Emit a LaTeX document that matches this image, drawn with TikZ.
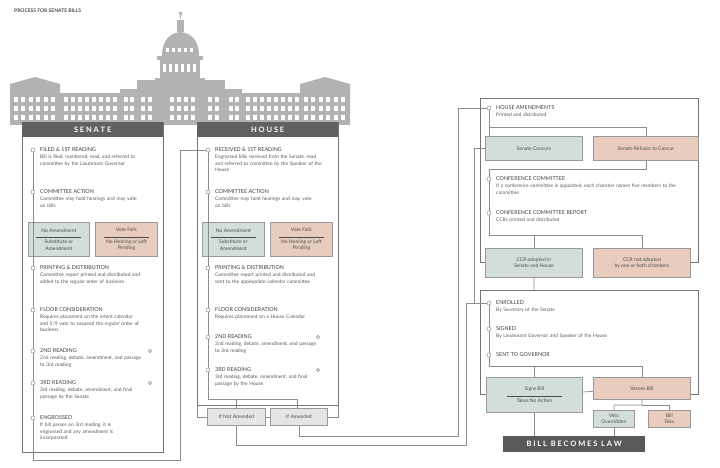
\documentclass[tikz,border=0pt]{standalone}
\usepackage{fontspec}
\setmainfont{Lato}
\begin{document}
\hyphenpenalty=10000 \exhyphenpenalty=10000
\begin{tikzpicture}[x=1pt,y=-1pt,
  ln/.style={draw=black!45,line width=0.7pt},
  frame/.style={draw=black!55,line width=0.9pt},
  dot/.style={circle,draw=black!45,fill=white,inner sep=0pt,minimum size=4pt,line width=0.5pt},
  sdot/.style={circle,draw=black!35,fill=black!15,inner sep=0pt,minimum size=3.5pt},
  head/.style={font=\fontsize{5.4}{6}\selectfont,text=black!75,inner sep=0pt},
  body/.style={font=\fontsize{4.9}{6.2}\selectfont,text=black!65,inner sep=0pt,align=left},
  gbox/.style={draw=black!40,fill=gB,line width=0.8pt,font=\fontsize{5}{6.3}\selectfont,text=black!70,align=center},
  pbox/.style={draw=black!40,fill=pB,line width=0.8pt,font=\fontsize{5}{6.3}\selectfont,text=black!70,align=center},
  nbox/.style={draw=black!40,fill=black!10,line width=0.8pt,font=\fontsize{5}{6.3}\selectfont,text=black!70,align=center},
  band/.style={fill=black!62,text=white,font=\bfseries\fontsize{7.5}{8}\selectfont,inner sep=0pt},
  bld/.style={fill=black!30,draw=none},
  win/.style={fill=white,draw=none}]
\definecolor{gB}{HTML}{D3DEDB}
\definecolor{pB}{HTML}{E8CDBE}
\useasboundingbox (0,0) rectangle (720,468);
\newcommand\stp[6]{%
  \node[dot] (#1) at (#2,#3) {};
  \node[head,anchor=west] (#1h) at (#2+7,#3) {#5};
  \node[body,anchor=north west,text width=#4] (#1b) at (#2+7,#3+5) {#6};}
% title
\node[anchor=west,font=\bfseries\fontsize{5}{6}\selectfont,text=black!70,inner sep=0pt] (title) at (14,11) {PROCESS FOR SENATE BILLS};
% capitol
\fill[bld] (10,84) -- (35,77) -- (60,84) -- (60,125) -- (10,125) -- cycle;
\fill[bld] (60,93) rectangle (120,125);
\fill[bld] (120,89) rectangle (137,125);
\fill[bld] (137,80) rectangle (225,125);
\fill[bld] (155,78) rectangle (205,82);
\fill[bld] (160,58) rectangle (200,80);
\fill[bld] (157,56) rectangle (203,60);
\fill[bld] (162,56) .. controls (162,40) and (170,33) .. (180.5,32) .. controls (191,33) and (199,40) .. (199,56) -- cycle;
\fill[bld] (177,32) rectangle (184,20);
\fill[bld] (180.5,20) -- (179,12) -- (182,12) -- cycle;
\fill[bld] (225,89) rectangle (242,125);
\fill[bld] (242,93) rectangle (300,125);
\fill[bld] (300,84) -- (325,77) -- (350,84) -- (350,125) -- (300,125) -- cycle;
\foreach \y in {97,106,115}{
  \foreach \x in {14,21,29,36,44,51,64,71,78,85,92,99,106,113,124,130,141,148,170,177,184,191,208,215,229,235,246,253,260,267,274,281,288,295,304,311,319,326,334,341}{
    \fill[win] (\x,\y) rectangle (\x+4,\y+5);}}
\foreach \x in {163,169,175,181,187,193}{\fill[win] (\x,64) rectangle (\x+3,72);}
\foreach \x in {166,172,178,184,190}{\fill[win] (\x,48) rectangle (\x+3,52);}
% ===== SENATE =====
\draw[frame,fill=white] (22,122) rectangle (163,452);
\node[band,minimum width=141pt,minimum height=15pt,anchor=north west] (sen) at (22,122) {S E N A T E};
\stp{s1}{33}{150}{100pt}{FILED \& 1ST READING}{Bill is filed, numbered, read, and referred to committee by the Lieutenant Governor}
\stp{s2}{33}{192}{100pt}{COMMITTEE ACTION}{Committee may hold hearings and may vote on bills}
\node[gbox,minimum width=61pt,minimum height=34pt,anchor=north west] (sg) at (28,222) {No Amendment\\[-1pt]\rule{45pt}{0.3pt}\\Substitute or\\Amendment};
\node[pbox,minimum width=62pt,minimum height=34pt,anchor=north west] (sp) at (95,222) {Vote Fails\\[-1pt]\rule{45pt}{0.3pt}\\No Hearing or Left\\Pending};
\stp{s3}{33}{268}{105pt}{PRINTING \& DISTRIBUTION}{Committee report printed and distributed and added to the regular order of business}
\stp{s4}{33}{310}{105pt}{FLOOR CONSIDERATION}{Requires placement on the intent calendar and 5/9 vote to suspend the regular order of business}
\stp{s5}{33}{351}{105pt}{2ND READING}{2nd reading, debate, amendment, and passage to 3rd reading}
\stp{s6}{33}{383}{105pt}{3RD READING}{3rd reading, debate, amendment, and final passage by the Senate}
\stp{s7}{33}{418}{85pt}{ENGROSSED}{If bill passes on 3rd reading, it is engrossed and any amendment is incorporated}
\node[sdot] (s5d) at (150,351) {};
\node[sdot] (s6d) at (150,383) {};
\coordinate (sl1) at (33,460); \coordinate (sl2) at (180,460); \coordinate (sl3) at (180,150);
\draw[ln] (s1) -- (s2) (s2) -- (s3) (s3) -- (s4) (s4) -- (s5) (s5) -- (s6) (s6) -- (s7);
% ===== HOUSE =====
\draw[frame,fill=white] (197,122) rectangle (338,405);
\node[band,minimum width=141pt,minimum height=15pt,anchor=north west] (hou) at (197,122) {H O U S E};
\stp{h1}{208}{150}{108pt}{RECEIVED \& 1ST READING}{Engrossed bills received from the Senate, read, and referred to committee by the Speaker of the House}
\stp{h2}{208}{192}{100pt}{COMMITTEE ACTION}{Committee may hold hearings and may vote on bills}
\node[gbox,minimum width=62pt,minimum height=34pt,anchor=north west] (hg) at (202,222) {No Amendment\\[-1pt]\rule{45pt}{0.3pt}\\Substitute or\\Amendment};
\node[pbox,minimum width=62pt,minimum height=34pt,anchor=north west] (hp) at (270,222) {Vote Fails\\[-1pt]\rule{45pt}{0.3pt}\\No Hearing or Left\\Pending};
\stp{h3}{208}{268}{110pt}{PRINTING \& DISTRIBUTION}{Committee report printed and distributed and sent to the appropriate calendar committee}
\stp{h4}{208}{310}{115pt}{FLOOR CONSIDERATION}{Requires placement on a House Calendar}
\stp{h5}{208}{337}{105pt}{2ND READING}{2nd reading, debate, amendment, and passage to 3rd reading}
\stp{h6}{208}{370}{105pt}{3RD READING}{3rd reading, debate, amendment, and final passage by the House}
\node[sdot] (h5d) at (318,337) {};
\node[sdot] (h6d) at (318,370) {};
\draw[ln] (h1) -- (h2) (h2) -- (h3) (h3) -- (h4) (h4) -- (h5) (h5) -- (h6);
\node[nbox,minimum width=58pt,minimum height=17pt,anchor=north west] (nam) at (207,408) {If Not Amended};
\node[nbox,minimum width=57pt,minimum height=17pt,anchor=north west] (am) at (270,408) {If Amended};
\coordinate (hb) at (208,399); \coordinate (hb2) at (236,399); \coordinate (hb3) at (297,399);
\draw[ln] (h6) -- (hb) -- (hb3) -- (am.north -| hb3);
\draw[ln] (hb2) -- (nam.north -| hb2);
\draw[ln] (nam) -- (am);
\draw[ln] (197,405) |- (nam.west);
\draw[ln] (338,405) |- (am.east);
% senate -> house
\draw[ln] (s7) -- (sl1) -- (sl2) -- (sl3) -- (h1);
% ===== RIGHT UPPER =====
\draw[frame] (582,262) -| (480,98) -| (698,262) -- (690,262);
\stp{r1}{489}{108}{190pt}{HOUSE AMENDMENTS}{Printed and distributed}
\node[gbox,minimum width=97pt,minimum height=24pt,anchor=north west] (sc) at (485,136) {Senate Concurs};
\node[pbox,minimum width=105pt,minimum height=24pt,anchor=north west] (sr) at (593,136) {Senate Refuses to Concur};
\stp{r2}{489}{179}{190pt}{CONFERENCE COMMITTEE}{If a conference committee is appointed, each chamber names five members to the committee}
\stp{r3}{489}{213}{190pt}{CONFERENCE COMMITTEE REPORT}{CCRs printed and distributed}
\node[gbox,minimum width=97pt,minimum height=29pt,anchor=north west] (ca) at (485,248) {CCR adopted in\\Senate and House};
\node[pbox,minimum width=97pt,minimum height=29pt,anchor=north west] (cn) at (593,248) {CCR not adopted\\by one or both chambers};
\draw[ln] (r1) -- (sc.north -| r1);
\draw[ln] (489,127) -| (sr.north);
\draw[ln] (sr.south) |- (489,169) -- (r2);
\draw[ln] (r2) -- (r3) -- (489,235) -| (cn.north);
\draw[ln] (534,235) -- (ca.north -| 534,0);
% ===== RIGHT LOWER =====
\draw[frame] (486,394) -| (480,290) -| (698,394) -- (690,394);
\stp{r4}{489}{303}{190pt}{ENROLLED}{By Secretary of the Senate}
\stp{r5}{489}{329}{190pt}{SIGNED}{By Lieutenant Governor and Speaker of the House}
\node[dot] (r6) at (489,355) {};
\node[head,anchor=west] (r6h) at (496,355) {SENT TO GOVERNOR};
\draw[ln] (ca.south) -- (534,290);
\node[gbox,minimum width=96pt,minimum height=35pt,anchor=north west] (sb) at (486,377) {Signs Bill\\[-1pt]\rule{55pt}{0.3pt}\\Takes No Action};
\node[pbox,minimum width=97pt,minimum height=22pt,anchor=north west] (vb) at (593,377) {Vetoes Bill};
\node[gbox,minimum width=41pt,minimum height=17pt,anchor=north west,inner sep=1pt] (vo) at (593,410) {Veto\\Overridden};
\node[pbox,minimum width=42pt,minimum height=17pt,anchor=north west,inner sep=1pt] (bd) at (648,410) {Bill\\Dies};
\node[fill=black!65,text=white,font=\bfseries\fontsize{7.5}{8}\selectfont,minimum width=142pt,minimum height=16pt,anchor=north west,inner sep=0pt] (law) at (503,436) {B I L L\ \ B E C O M E S\ \ L A W};
\draw[ln] (r4) -- (r5) -- (r6) -- (489,366) -| (vb.north);
\draw[ln] (534,366) -- (sb.north -| 534,0);
\draw[ln] (sb) -- (vb);
\draw[ln] (vb.south) -- (642,405) -| (vo.north);
\draw[ln] (642,405) -| (bd.north);
\draw[ln] (sb.south -| 534,0) -- (law.north -| 534,0);
\draw[ln] (vo.south) -- (law.north -| vo.south);
% cross connectors
\draw[ln] (am.south) |- (458,436) |- (r1);
\draw[ln] (nam.south -| 236,0) |- (466,445) |- (r4);
\draw[ln] (sc.west) -| (474,303);
\end{tikzpicture}
\end{document}
